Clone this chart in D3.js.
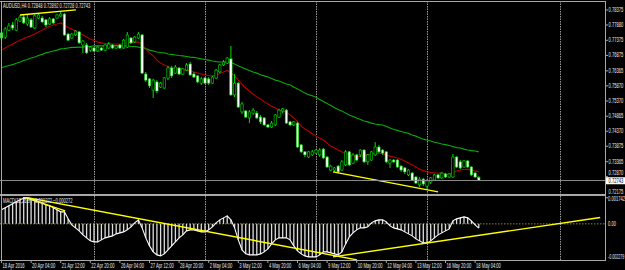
<!DOCTYPE html>
<html>
<head>
<meta charset="utf-8">
<script src="https://cdn.jsdelivr.net/npm/d3@7"></script>
<style>
  html, body { margin: 0; padding: 0; background: #000; }
  svg { display: block; }
  text { font-family: "Liberation Sans", Arial, sans-serif; font-size: 6.5px; fill: #e8e8e8; }
</style>
</head>
<body>
<svg id="chart" width="625" height="270"></svg>
<script>
// AUDUSD H4 candles, 18 Apr 20:00 .. 18 May 08:00
var openP = [
  .7762,.7748,.7771,.7788,.7771,.7801,.7814,.7791,.7805,.7778,
  .7811,.7811,.7805,.7791,.7808,.7811,.7818,.7824,.7758,.7745,
  .7755,.7765,.7722,.7722,.7705,.7712,.7702,.7712,.7705,.7712,
  .7722,.7712,.7722,.7712,.7715,.7745,.7732,.7745,.7755,.7626,
  .7610,.7573,.7600,.7583,.7580,.7613,.7646,.7629,.7646,.7626,
  .7639,.7659,.7626,.7620,.7596,.7613,.7610,.7596,.7613,.7633,
  .7656,.7662,.7676,.7557,.7596,.7501,.7504,.7481,.7497,.7497,
  .7484,.7481,.7458,.7451,.7458,.7484,.7504,.7507,.7468,.7458,
  .7464,.7392,.7369,.7352,.7359,.7365,.7359,.7378,.7352,.7309,
  .7309,.7322,.7309,.7326,.7369,.7332,.7359,.7359,.7375,.7336,
  .7342,.7359,.7385,.7375,.7369,.7332,.7342,.7342,.7322,.7316,
  .7293,.7299,.7286,.7260,.7279,.7256,.7269,.7276,.7293,.7283,
  .7296,.7286,.7286,.7352,.7336,.7319,.7339,.7319,.7299,.72848
];
var highP = [
  .7768,.7781,.7795,.7798,.7811,.7821,.7821,.7821,.7811,.7824,
  .7828,.7818,.7808,.7814,.7811,.7824,.7831,.7828,.7762,.7762,
  .7771,.7768,.7738,.7729,.7719,.7715,.7719,.7715,.7725,.7732,
  .7725,.7722,.7725,.7742,.7765,.7748,.7752,.7765,.7758,.7633,
  .7613,.7610,.7606,.7600,.7616,.7653,.7653,.7656,.7649,.7646,
  .7662,.7666,.7633,.7623,.7616,.7616,.7616,.7620,.7643,.7659,
  .7672,.7682,.7719,.7626,.7600,.7534,.7507,.7507,.7514,.7504,
  .7491,.7484,.7461,.7471,.7494,.7511,.7514,.7511,.7471,.7471,
  .7468,.7395,.7372,.7372,.7375,.7378,.7382,.7382,.7355,.7326,
  .7319,.7326,.7342,.7375,.7372,.7365,.7362,.7378,.7378,.7362,
  .7372,.7401,.7392,.7378,.7372,.7345,.7345,.7345,.7326,.7319,
  .7312,.7303,.7289,.7286,.7283,.7279,.7286,.7296,.7296,.7303,
  .7299,.7299,.7362,.7355,.7342,.7342,.7342,.7322,.7303,.72892
];
var lowP = [
  .7738,.7742,.7768,.7771,.7768,.7798,.7791,.7785,.7778,.7775,
  .7808,.7795,.7781,.7788,.7791,.7808,.7814,.7752,.7735,.7742,
  .7752,.7725,.7696,.7692,.7699,.7699,.7699,.7702,.7702,.7709,
  .7709,.7709,.7709,.7709,.7712,.7725,.7729,.7742,.7626,.7600,
  .7580,.7547,.7563,.7580,.7577,.7606,.7613,.7626,.7623,.7623,
  .7636,.7620,.7613,.7596,.7590,.7593,.7590,.7593,.7610,.7629,
  .7653,.7659,.7554,.7550,.7514,.7494,.7481,.7464,.7491,.7478,
  .7461,.7454,.7448,.7448,.7454,.7481,.7497,.7461,.7454,.7454,
  .7382,.7365,.7352,.7349,.7355,.7362,.7352,.7345,.7316,.7306,
  .7303,.7299,.7306,.7322,.7322,.7329,.7339,.7352,.7332,.7326,
  .7339,.7355,.7365,.7359,.7332,.7316,.7332,.7316,.7303,.7296,
  .7289,.7273,.7263,.7253,.7256,.7243,.7263,.7273,.7279,.7279,
  .7283,.7283,.7283,.7316,.7312,.7316,.7316,.7289,.7283,.72728
];
var closeP = [
  .7745,.7775,.7785,.7778,.7805,.7814,.7795,.7811,.7781,.7818,
  .7821,.7798,.7788,.7808,.7795,.7821,.7824,.7755,.7738,.7758,
  .7768,.7729,.7735,.7696,.7715,.7702,.7715,.7705,.7722,.7725,
  .7712,.7719,.7712,.7738,.7755,.7729,.7748,.7758,.7629,.7606,
  .7587,.7606,.7570,.7596,.7613,.7646,.7620,.7649,.7626,.7643,
  .7656,.7623,.7616,.7600,.7610,.7596,.7596,.7616,.7639,.7656,
  .7666,.7679,.7557,.7596,.7517,.7527,.7484,.7501,.7507,.7481,
  .7468,.7458,.7451,.7464,.7491,.7507,.7511,.7464,.7458,.7468,
  .7385,.7369,.7359,.7369,.7369,.7375,.7375,.7349,.7319,.7322,
  .7316,.7303,.7336,.7369,.7326,.7359,.7342,.7375,.7336,.7359,
  .7369,.7385,.7369,.7365,.7336,.7342,.7336,.7319,.7309,.7303,
  .7309,.7276,.7266,.7279,.7263,.7273,.7283,.7293,.7283,.7299,
  .7286,.7296,.7352,.7319,.7316,.7339,.7319,.7293,.7286,.72743
];

// moving averages (red = fast, green = slow)
var maFast = [
  .7705,.7712,.7719,.7725,.7732,.7738,.7743,.7748,.7753,.7758,
  .7765,.7771,.7778,.7783,.7788,.7791,.7795,.7788,.7780,.7775,
  .7768,.7762,.7755,.7748,.7742,.7737,.7732,.7729,.7727,.7727,
  .7725,.7725,.7725,.7727,.7729,.7729,.7730,.7732,.7722,.7709,
  .7696,.7686,.7672,.7662,.7656,.7651,.7646,.7644,.7643,.7641,
  .7639,.7636,.7633,.7629,.7626,.7623,.7621,.7620,.7623,.7628,
  .7633,.7638,.7629,.7620,.7606,.7593,.7580,.7570,.7560,.7550,
  .7544,.7535,.7527,.7520,.7514,.7507,.7504,.7501,.7491,.7481,
  .7468,.7454,.7444,.7438,.7428,.7421,.7415,.7408,.7398,.7388,
  .7382,.7375,.7369,.7362,.7359,.7355,.7352,.7355,.7357,.7359,
  .7362,.7365,.7365,.7362,.7359,.7355,.7352,.7349,.7345,.7339,
  .7332,.7326,.7319,.7312,.7307,.7303,.7301,.7299,.7299,.7298,
  .7296,.7294,.7299,.7306,.7309,.7311,.7312,.7309,.7306,.7303
];
var maSlow = [
  .7647,.7651,.7654,.7657,.7662,.7666,.7671,.7674,.7679,.7682,
  .7687,.7691,.7696,.7699,.7702,.7705,.7709,.7710,.7712,.7714,
  .7714,.7715,.7715,.7717,.7717,.7719,.7719,.7719,.7719,.7719,
  .7719,.7719,.7719,.7719,.7719,.7717,.7717,.7715,.7714,.7710,
  .7705,.7702,.7699,.7697,.7696,.7692,.7691,.7689,.7687,.7686,
  .7684,.7682,.7681,.7679,.7676,.7674,.7672,.7669,.7667,.7666,
  .7666,.7666,.7664,.7659,.7653,.7648,.7643,.7638,.7633,.7629,
  .7624,.7620,.7616,.7611,.7606,.7603,.7598,.7593,.7590,.7583,
  .7577,.7570,.7563,.7558,.7554,.7549,.7542,.7535,.7529,.7522,
  .7515,.7509,.7504,.7497,.7491,.7486,.7481,.7476,.7471,.7468,
  .7464,.7461,.7459,.7458,.7453,.7448,.7443,.7440,.7436,.7433,
  .7430,.7425,.7421,.7416,.7411,.7408,.7405,.7401,.7398,.7395,
  .7393,.7390,.7387,.7383,.7382,.7378,.7375,.7373,.7372,.7369
];

// MACD histogram (signal line follows the same values)
var macd = [
  .000909,.001038,.001168,.001298,.001428,.001558,.001655,.001687,.001623,.001558,
  .001428,.001363,.001233,.001168,.001038,.000909,.000779,.000779,.000325,-.000065,
  -.000260,-.000454,-.000714,-.000909,-.001103,-.001168,-.001168,-.001038,-.000909,-.000844,
  -.000779,-.000649,-.000584,-.000519,-.000389,-.000195,.000065,.000260,-.000260,-.000909,
  -.001428,-.001817,-.002012,-.002077,-.001947,-.001687,-.001428,-.001168,-.000909,-.000714,
  -.000454,-.000389,-.000389,-.000454,-.000519,-.000519,-.000389,-.000195,.000065,.000260,
  .000389,.000519,.000260,-.000260,-.001038,-.001687,-.001947,-.002012,-.002012,-.002012,
  -.001947,-.001817,-.001623,-.001298,-.001038,-.000909,-.000909,-.000909,-.001038,-.001428,
  -.001752,-.001947,-.002077,-.002142,-.002142,-.002142,-.002012,-.001817,-.001817,-.001882,
  -.001947,-.002012,-.001817,-.001298,-.000844,-.000584,-.000389,-.000260,-.000260,-.000195,
  .000065,.000195,.000260,.000260,.000130,-.000130,-.000260,-.000325,-.000389,-.000519,
  -.000649,-.000779,-.000974,-.001103,-.001233,-.001233,-.001103,-.000909,-.000714,-.000584,
  -.000454,-.000325,.000195,.000325,.000389,.000454,.000389,.000195,-.000065,-.000272
];

var timeLabels = ["18 Apr 2016","20 Apr 04:00","21 Apr 12:00","22 Apr 20:00","26 Apr 04:00",
  "27 Apr 12:00","28 Apr 20:00","2 May 04:00","3 May 12:00","4 May 20:00","6 May 04:00",
  "9 May 12:00","10 May 20:00","12 May 04:00","13 May 12:00","16 May 20:00","18 May 04:00"];
var timeLabelBars = [0,8,16,24,32,40,48,56,64,72,80,88,96,104,112,120,128];
var separatorBars = [25,55,85,115,151];

var priceTicks = [0.78375,0.77880,0.77375,0.76875,0.76365,0.75870,0.75370,
  0.74865,0.74370,0.73875,0.73365,0.72870,0.72175];
var macdTicks = [0.001742, 0, -0.002279];
var macdTickText = ["0.001742", "0.00", "-0.002279"];

// yellow trend lines: [bar, value] pairs
var priceTrends = [[[5.0, 0.7821], [20.1, 0.7838]], [[89.6, 0.7303], [118.0, 0.7237]]];
var macdTrends = [
  [[5.8, 0.001752], [17.2, 0.000844]],
  [[5.8, 0.001752], [96.1, -0.002336]],
  [[89.6, -0.002142], [161.8, 0.000409]]
];

var svg = d3.select("#chart");
var axisX = 605;
var mainTop = 1, mainBottom = 195, macdTop = 196, macdBottom = 260;
var n = closeP.length;

var x = d3.scaleLinear().domain([0, n - 1]).range([1.5, 478.8]);
var y = d3.scaleLinear().domain([0.72870, 0.78375]).range([176.7, 10]);
var ym = d3.scaleLinear().domain([-0.002279, 0.001742]).range([259, 197]);

var fmt5 = d3.format(".5f");
var fmt6 = d3.format(".6f");
function squeeze(sel, tx, ty, sx) {
  sel.attr("transform", function(d, i) {
    var k = sx ? sx(d, i) : 0.63;
    return "translate(" + tx(d, i) + "," + ty(d, i) + ") scale(" + k + ",1)";
  });
}

var defs = svg.append("defs");
defs.append("clipPath").attr("id", "clipMain")
  .append("rect").attr("x", 0).attr("y", mainTop + 1).attr("width", axisX).attr("height", mainBottom - mainTop - 2);
defs.append("clipPath").attr("id", "clipMacd")
  .append("rect").attr("x", 0).attr("y", macdTop + 1).attr("width", axisX).attr("height", macdBottom - macdTop - 1);

// week separators
svg.append("g").selectAll("line")
  .data(separatorBars)
  .enter().append("line")
  .attr("x1", function(d) { return Math.round(x(d)) + 0.5; })
  .attr("x2", function(d) { return Math.round(x(d)) + 0.5; })
  .attr("y1", mainTop).attr("y2", macdBottom)
  .attr("stroke", "#9a9a9a").attr("stroke-width", 1)
  .attr("stroke-dasharray", "1.5,1");

var main = svg.append("g").attr("clip-path", "url(#clipMain)");

var line = d3.line()
  .x(function(d, i) { return x(i); })
  .y(function(d) { return y(d); });

main.append("path").datum(maSlow)
  .attr("d", line).attr("fill", "none")
  .attr("stroke", "#0aa80a").attr("stroke-width", 1.1);
main.append("path").datum(maFast)
  .attr("d", line).attr("fill", "none")
  .attr("stroke", "#b80000").attr("stroke-width", 1.1);

var bars = d3.range(n);
main.append("g").selectAll("line")
  .data(bars)
  .enter().append("line")
  .attr("x1", function(i) { return x(i); })
  .attr("x2", function(i) { return x(i); })
  .attr("y1", function(i) { return y(highP[i]); })
  .attr("y2", function(i) { return y(lowP[i]); })
  .attr("stroke", "#00dd00").attr("stroke-width", 1);

main.append("g").selectAll("rect")
  .data(bars)
  .enter().append("rect")
  .attr("x", function(i) { return x(i) - 1.2; })
  .attr("width", 2.4)
  .attr("y", function(i) { return y(Math.max(openP[i], closeP[i])); })
  .attr("height", function(i) { return Math.max(0.8, Math.abs(y(openP[i]) - y(closeP[i]))); })
  .attr("fill", function(i) { return closeP[i] < openP[i] ? "#ffffff" : "#000000"; })
  .attr("stroke", "#00dd00").attr("stroke-width", 0.6);

// bid line
var bid = closeP[n - 1];
svg.append("line")
  .attr("x1", 0).attr("x2", axisX)
  .attr("y1", y(bid)).attr("y2", y(bid))
  .attr("stroke", "#8c8c8c").attr("stroke-width", 1);

main.append("g").selectAll("line")
  .data(priceTrends)
  .enter().append("line")
  .attr("x1", function(d) { return x(d[0][0]); })
  .attr("y1", function(d) { return y(d[0][1]); })
  .attr("x2", function(d) { return x(d[1][0]); })
  .attr("y2", function(d) { return y(d[1][1]); })
  .attr("stroke", "#ffff00").attr("stroke-width", 1.4);

// MACD pane
var mp = svg.append("g").attr("clip-path", "url(#clipMacd)");

mp.append("line")
  .attr("x1", 0).attr("x2", axisX)
  .attr("y1", ym(0)).attr("y2", ym(0))
  .attr("stroke", "#8c8c2a").attr("stroke-width", 1)
  .attr("stroke-dasharray", "1.5,1.5");

mp.append("g").selectAll("line")
  .data(macd)
  .enter().append("line")
  .attr("x1", function(d, i) { return x(i); })
  .attr("x2", function(d, i) { return x(i); })
  .attr("y1", ym(0))
  .attr("y2", function(d) { return ym(d); })
  .attr("stroke", "#dcdcdc").attr("stroke-width", 1.3);

mp.append("path").datum(macd)
  .attr("d", d3.line().x(function(d, i) { return x(i); }).y(function(d) { return ym(d); }))
  .attr("fill", "none").attr("stroke", "#ffffff").attr("stroke-width", 1.1);

mp.append("g").selectAll("line")
  .data(macdTrends)
  .enter().append("line")
  .attr("x1", function(d) { return x(d[0][0]); })
  .attr("y1", function(d) { return ym(d[0][1]); })
  .attr("x2", function(d) { return x(d[1][0]); })
  .attr("y2", function(d) { return ym(d[1][1]); })
  .attr("stroke", "#ffff00").attr("stroke-width", 1.4);

// frames
var frame = svg.append("g").attr("stroke", "#a8a8a8").attr("fill", "none");
frame.append("line").attr("x1", 0).attr("x2", axisX).attr("y1", 1.5).attr("y2", 1.5);
frame.append("line").attr("x1", 1.5).attr("x2", 1.5).attr("y1", 1).attr("y2", macdBottom);
frame.append("line").attr("x1", axisX + 0.5).attr("x2", axisX + 0.5).attr("y1", 1).attr("y2", macdBottom);
frame.append("line").attr("x1", 0).attr("x2", axisX).attr("y1", mainBottom).attr("y2", mainBottom).attr("stroke-width", 2);
frame.append("line").attr("x1", 0).attr("x2", axisX + 1).attr("y1", macdBottom + 0.5).attr("y2", macdBottom + 0.5);

// price axis (labels kept clear of the bid box)
var pt = svg.append("g");
function tickY(p) {
  var v = Math.min(y(p), mainBottom - 3);
  if (v < y(bid) && y(bid) - v < 7.5) v = y(bid) - 7.5;
  return v;
}
pt.selectAll("line").data(priceTicks).enter().append("line")
  .attr("x1", axisX).attr("x2", axisX + 3)
  .attr("y1", function(d) { return y(d); })
  .attr("y2", function(d) { return y(d); })
  .attr("stroke", "#a8a8a8");
pt.selectAll("text").data(priceTicks).enter().append("text")
  .text(function(d) { return fmt5(d); })
  .call(squeeze, function() { return axisX + 3.5; }, function(d) { return tickY(d) + 2.0; });

// bid label
svg.append("rect")
  .attr("x", axisX + 1).attr("y", y(bid) - 3.3)
  .attr("width", 19).attr("height", 7).attr("fill", "#ffffff");
svg.append("text").text(fmt5(bid))
  .style("fill", "#000")
  .call(squeeze, function() { return axisX + 3.5; }, function() { return y(bid) + 2.4; });

// macd axis
function mTickY(v) { return Math.max(macdTop + 3, Math.min(ym(v), macdBottom - 3.5)); }
svg.append("g").selectAll("text").data(macdTicks).enter().append("text")
  .text(function(d, i) { return macdTickText[i]; })
  .call(squeeze, function() { return axisX + 3; }, function(d) { return mTickY(d) + 2.2; },
        function(d, i) { return macdTickText[i].length > 8 ? 0.56 : 0.63; });

// time axis
var tg = svg.append("g");
tg.selectAll("line").data(timeLabelBars).enter().append("line")
  .attr("x1", function(d) { return x(d); })
  .attr("x2", function(d) { return x(d); })
  .attr("y1", macdBottom).attr("y2", macdBottom + 3)
  .attr("stroke", "#a8a8a8");
tg.selectAll("text").data(timeLabelBars).enter().append("text")
  .text(function(d, i) { return timeLabels[i]; })
  .call(squeeze, function(d) { return x(d) + 1; }, function() { return 268; });

// titles
svg.append("text")
  .text("AUDUSD,H4 " + [openP[n - 1], highP[n - 1], lowP[n - 1], closeP[n - 1]].map(fmt5).join(" "))
  .call(squeeze, function() { return 3; }, function() { return 8; });
svg.append("text")
  .text("MACD(12,26,9) " + fmt6(macd[n - 1]) + " " + fmt6(macd[n - 1]))
  .call(squeeze, function() { return 3; }, function() { return 203; });
</script>
</body>
</html>
